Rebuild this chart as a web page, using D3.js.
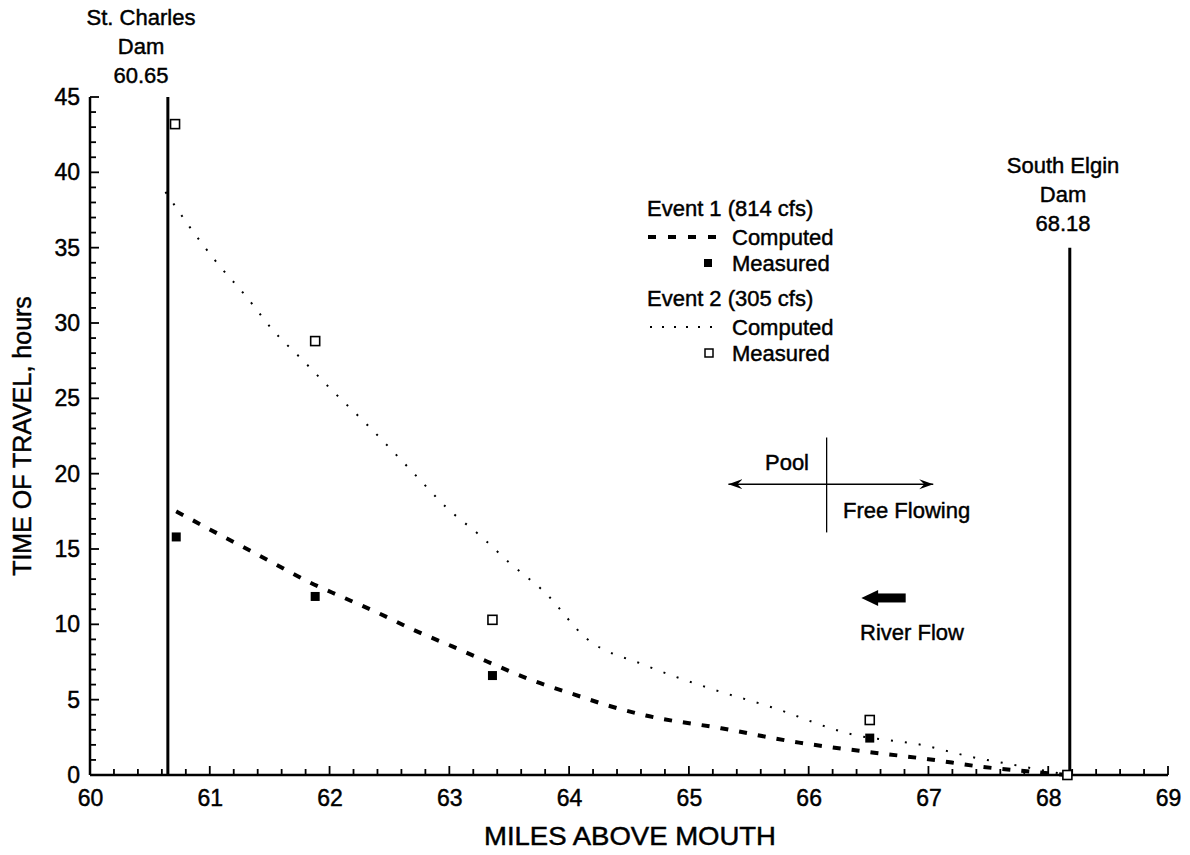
<!DOCTYPE html>
<html><head><meta charset="utf-8">
<script src="https://cdn.jsdelivr.net/npm/d3@7"></script>
<style>
body{margin:0;background:#fff}
text{font-family:"Liberation Sans",Arial,Helvetica,sans-serif;fill:#000}
</style>
</head><body>
<svg id="c" width="1190" height="855"></svg>
<script>
// ---------- data ----------
const xMajorTicks = [60, 61, 62, 63, 64, 65, 66, 67, 68, 69];
const yMajorTicks = [0, 5, 10, 15, 20, 25, 30, 35, 40, 45];

const e1ComputedMiles = [60.72, 61.0, 61.5, 61.83, 62.11, 62.42, 62.71, 63.02, 63.31, 63.72, 64.04, 64.33, 64.64, 65.27, 65.92, 66.53, 67.0, 67.44, 67.89, 68.15];
const e1ComputedHours = [17.5, 16.3, 14.2, 12.8, 11.8, 10.7, 9.6, 8.55, 7.55, 6.2, 5.35, 4.6, 3.95, 3.1, 2.15, 1.5, 1.05, 0.55, 0.2, 0];

const e2ComputedMiles = [60.63, 60.69, 60.83, 61.06, 61.31, 61.53, 61.78, 62.0, 62.32, 62.73, 62.97, 63.27, 63.5, 63.8, 64.14, 64.63, 65.14, 65.69, 66.36, 66.94, 67.36, 67.72, 68.17];
const e2ComputedHours = [38.7, 38.0, 36.4, 34.0, 31.7, 29.5, 27.5, 25.7, 23.2, 19.8, 17.8, 15.8, 14.1, 12.1, 9.1, 7.3, 5.84, 4.5, 2.7, 2.0, 1.2, 0.66, 0];

const e1MeasuredMiles = [60.72, 61.88, 63.36, 66.51];
const e1MeasuredHours = [15.8, 11.85, 6.6, 2.45];
const e2MeasuredMiles = [60.71, 61.88, 63.36, 66.51, 68.16];
const e2MeasuredHours = [43.2, 28.8, 10.3, 3.65, 0];

const damMiles = [60.65, 68.18];
const damTopHours = [45, 35];
const damLabels = [["St. Charles", "Dam", "60.65"], ["South Elgin", "Dam", "68.18"]];

const legendTitles = ["Event 1 (814 cfs)", "Event 2 (305 cfs)"];
const legendItems = ["Computed", "Measured"];

// ---------- layout ----------
const svg = d3.select("#c");
const x = d3.scaleLinear().domain([60, 69]).range([90, 1168]);
const y = d3.scaleLinear().domain([0, 45]).range([775, 97]);
const FS = 22;

const xMinor = d3.range(0, 46).map(i => 60 + i * 0.2).filter(v => Math.abs(v - Math.round(v)) > 1e-6);
const yMinor = d3.range(0, 46).filter(v => v % 5 !== 0);

// x axis: labels + domain via d3.axisBottom
const gx = svg.append("g").attr("transform", `translate(0,${y(0)})`)
  .call(d3.axisBottom(x).tickValues(xMajorTicks).tickSize(0).tickPadding(15).tickFormat(d3.format("d")));
gx.select("path.domain").attr("stroke", "#000").attr("stroke-width", 2.5).attr("d", `M${x(60)},0H${x(69)}`);
gx.selectAll(".tick text").attr("font-size", 23).attr("fill", "#000")
  .attr("font-family", "Liberation Sans, Arial, sans-serif");

// y axis
const gy = svg.append("g").attr("transform", `translate(${x(60)},0)`)
  .call(d3.axisLeft(y).tickValues(yMajorTicks).tickSize(0).tickPadding(10).tickFormat(d3.format("d")));
gy.select("path.domain").attr("stroke", "#000").attr("stroke-width", 2.5).attr("d", `M0,${y(45)}V${y(0)}`);
gy.selectAll(".tick text").attr("font-size", 23).attr("fill", "#000")
  .attr("font-family", "Liberation Sans, Arial, sans-serif");

// inward tick marks (through the scales)
const tk = svg.append("g").attr("stroke", "#000").attr("stroke-width", 1.8);
tk.selectAll("line.xmin").data(xMinor).join("line").attr("class", "xmin")
  .attr("x1", d => x(d)).attr("x2", d => x(d)).attr("y1", y(0)).attr("y2", y(0) - 6);
tk.selectAll("line.xmaj").data(xMajorTicks).join("line").attr("class", "xmaj")
  .attr("x1", d => x(d)).attr("x2", d => x(d)).attr("y1", y(0)).attr("y2", y(0) - 9);
tk.selectAll("line.ymin").data(yMinor).join("line").attr("class", "ymin")
  .attr("x1", x(60)).attr("x2", x(60) + 6).attr("y1", d => y(d)).attr("y2", d => y(d));
tk.selectAll("line.ymaj").data(yMajorTicks).join("line").attr("class", "ymaj")
  .attr("x1", x(60)).attr("x2", x(60) + 9).attr("y1", d => y(d)).attr("y2", d => y(d));

// axis titles
svg.append("text").attr("x", 630).attr("y", 845).attr("text-anchor", "middle").attr("font-size", 25)
  .attr("textLength", 292).attr("lengthAdjust", "spacingAndGlyphs").text("MILES ABOVE MOUTH");
svg.append("text").attr("transform", `translate(31,${y(22.5)}) rotate(-90)`).attr("text-anchor", "middle")
  .attr("font-size", 25).text("TIME OF TRAVEL, hours");

// dam lines + labels
damMiles.forEach((m, i) => {
  svg.append("line").attr("x1", x(m)).attr("x2", x(m)).attr("y1", y(damTopHours[i])).attr("y2", y(0))
    .attr("stroke", "#000").attr("stroke-width", 3);
});
const damLabelX = [141, 1063];
const damLabelBase = [25, 173];
damLabels.forEach((lines, i) => {
  lines.forEach((t, j) => {
    svg.append("text").attr("x", damLabelX[i]).attr("y", damLabelBase[i] + j * 29)
      .attr("text-anchor", "middle").attr("font-size", 22).text(t);
  });
});

// computed curves
const line = d3.line().x(d => x(d[0])).y(d => y(d[1])).curve(d3.curveMonotoneX);
svg.append("path").datum(e2ComputedMiles.map((m, i) => [m, e2ComputedHours[i]]))
  .attr("d", line).attr("fill", "none").attr("stroke", "#000").attr("stroke-width", 2)
  .attr("stroke-dasharray", "2,12");
svg.append("path").datum(e1ComputedMiles.map((m, i) => [m, e1ComputedHours[i]]))
  .attr("d", line).attr("fill", "none").attr("stroke", "#000").attr("stroke-width", 4)
  .attr("stroke-dasharray", "8,11");

// measured markers
const S = 9;
svg.append("g").selectAll("rect").data(e1MeasuredMiles.map((m, i) => [m, e1MeasuredHours[i]])).join("rect")
  .attr("x", d => x(d[0]) - S/2).attr("y", d => y(d[1]) - S/2).attr("width", S).attr("height", S).attr("fill", "#000");
svg.append("g").selectAll("rect").data(e2MeasuredMiles.map((m, i) => [m, e2MeasuredHours[i]])).join("rect")
  .attr("x", d => x(d[0]) - S/2).attr("y", d => y(d[1]) - S/2).attr("width", S).attr("height", S)
  .attr("fill", "#fff").attr("stroke", "#000").attr("stroke-width", 1.6);

// legend
const lg = svg.append("g");
const lgTitleX = 647, lgItemX = 732;
const rowY = [216, 245, 271, 306, 335, 361];
lg.append("text").attr("x", lgTitleX).attr("y", rowY[0]).attr("font-size", FS).text(legendTitles[0]);
lg.append("text").attr("x", lgItemX).attr("y", rowY[1]).attr("font-size", FS).text(legendItems[0]);
lg.append("text").attr("x", lgItemX).attr("y", rowY[2]).attr("font-size", FS).text(legendItems[1]);
lg.append("text").attr("x", lgTitleX).attr("y", rowY[3]).attr("font-size", FS).text(legendTitles[1]);
lg.append("text").attr("x", lgItemX).attr("y", rowY[4]).attr("font-size", FS).text(legendItems[0]);
lg.append("text").attr("x", lgItemX).attr("y", rowY[5]).attr("font-size", FS).text(legendItems[1]);
lg.append("line").attr("x1", 648).attr("x2", 716).attr("y1", rowY[1] - 8).attr("y2", rowY[1] - 8)
  .attr("stroke", "#000").attr("stroke-width", 4).attr("stroke-dasharray", "8,12");
lg.append("rect").attr("x", 708 - 4).attr("y", rowY[2] - 12).attr("width", 8).attr("height", 8).attr("fill", "#000");
lg.append("line").attr("x1", 650).attr("x2", 716).attr("y1", rowY[4] - 8).attr("y2", rowY[4] - 8)
  .attr("stroke", "#000").attr("stroke-width", 1.8).attr("stroke-dasharray", "2,10");
lg.append("rect").attr("x", 709 - 4).attr("y", rowY[5] - 12).attr("width", 8).attr("height", 8)
  .attr("fill", "#fff").attr("stroke", "#000").attr("stroke-width", 1.5);

// Pool / Free Flowing annotation
const defs = svg.append("defs");
defs.append("marker").attr("id", "thinHead").attr("viewBox", "-14 -6 16 12").attr("refX", 0).attr("refY", 0)
  .attr("markerWidth", 16).attr("markerHeight", 12).attr("markerUnits", "userSpaceOnUse").attr("orient", "auto-start-reverse")
  .append("path").attr("d", "M0,0 L-14,-5 L-9,0 L-14,5 Z").attr("fill", "#000");
svg.append("line").attr("x1", x(66.15)).attr("x2", x(66.15)).attr("y1", y(22.4)).attr("y2", y(16.1))
  .attr("stroke", "#000").attr("stroke-width", 1.3);
svg.append("line").attr("x1", x(65.33)).attr("x2", x(67.04)).attr("y1", y(19.3)).attr("y2", y(19.3))
  .attr("stroke", "#000").attr("stroke-width", 1.5)
  .attr("marker-start", "url(#thinHead)").attr("marker-end", "url(#thinHead)");
svg.append("text").attr("x", 787).attr("y", 470).attr("text-anchor", "middle").attr("font-size", FS).text("Pool");
svg.append("text").attr("x", 843).attr("y", 518).attr("font-size", FS).text("Free Flowing");

// River Flow arrow
const ay = y(11.75);
svg.append("rect").attr("x", x(66.55)).attr("y", ay - 4.5).attr("width", x(66.81) - x(66.55)).attr("height", 9).attr("fill", "#000");
svg.append("path").attr("d", `M${x(66.44)},${ay} L${x(66.58)},${ay - 8} L${x(66.58)},${ay + 8} Z`).attr("fill", "#000");
svg.append("text").attr("x", 912).attr("y", 640).attr("text-anchor", "middle").attr("font-size", FS).text("River Flow");

// slight thickening of text to mimic scan weight
svg.selectAll("text").attr("stroke", "#000").attr("stroke-width", 0.45);
</script>
</body></html>
